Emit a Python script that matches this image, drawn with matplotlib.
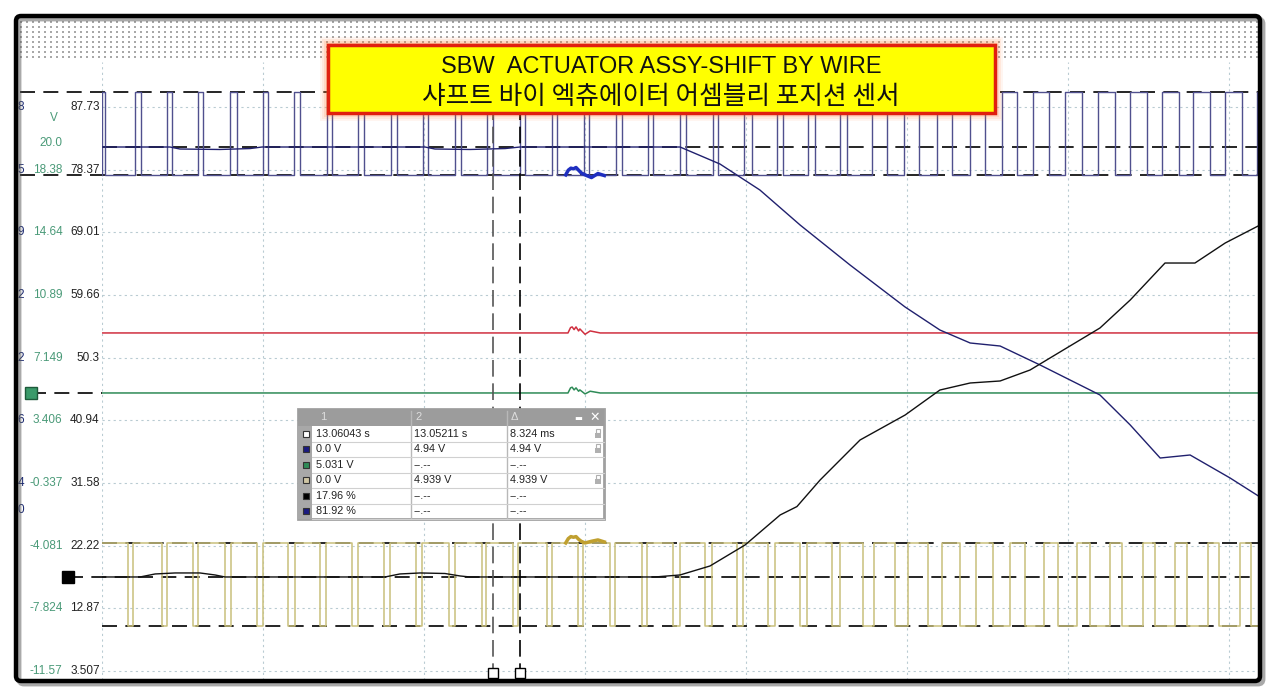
import matplotlib.pyplot as plt
from matplotlib.patches import Rectangle, FancyBboxPatch
from matplotlib.transforms import Affine2D

# ---- scope data: time in ms (50 ms/div), level in the right-hand % scale ----
t_max = 359.6
pct_ticks = [87.73, 78.37, 69.01, 59.66, 50.3, 40.94, 31.58, 22.22, 12.87, 3.507]
volt_ticks = ['', '18.38', '14.64', '10.89', '7.149', '3.406', '-0.337', '-4.081', '-7.824', '-11.57']
cut_ticks = ['8', '5', '9', '2', '2', '6', '4', '', '', '']

# blue channel: short high pulses (rising / falling edges, ms)
blue_high, blue_low = 89.97, 77.58
blue_on = [0.0, 10.2, 20.1, 29.9, 39.8, 49.9, 59.7, 69.8, 79.6, 89.8, 99.8, 109.6,
           119.5, 129.8, 139.7, 149.7, 159.6, 169.4, 179.5, 189.7, 199.5, 209.5,
           219.3, 229.2, 239.0, 248.9, 259.2, 269.6, 279.4, 289.2, 299.1, 309.4,
           319.3, 329.1, 338.9, 348.8, 358.6]
blue_off = [0.9, 12.0, 21.8, 31.4, 41.8, 51.6, 61.5, 71.5, 81.4, 91.5, 101.3, 111.4,
            121.3, 131.4, 141.4, 151.3, 161.4, 171.2, 181.3, 191.4, 201.8, 211.6,
            221.4, 231.3, 243.7, 253.8, 263.8, 274.2, 284.1, 294.2, 304.2, 314.6,
            324.4, 334.3, 344.1, 353.9, 359.6]

# yellow channel: short low pulses (falling / rising edges, ms)
yel_high, yel_low = 22.65, 10.29
yel_fall = [8.1, 18.6, 28.3, 38.2, 48.1, 57.8, 67.7, 77.6, 87.6, 97.5, 107.8, 117.9,
            127.6, 138.1, 147.8, 157.8, 167.6, 177.3, 187.3, 197.1, 206.8, 216.8,
            226.7, 236.3, 246.3, 256.5, 266.5, 276.7, 286.6, 296.9, 306.8, 316.8,
            327.0, 337.0, 346.9, 356.8]
yel_rise = [9.6, 20.2, 29.8, 40.1, 50.0, 59.9, 69.6, 79.5, 89.4, 99.4, 109.6, 119.4,
            129.2, 139.6, 149.4, 159.3, 169.2, 179.5, 189.3, 199.1, 209.0, 218.9,
            229.2, 239.8, 250.3, 260.9, 271.4, 282.0, 292.5, 302.8, 313.0, 323.3,
            333.2, 343.5, 353.4, 359.6]

# duty curves (%)
duty_blue_t = [0, 21.1, 24.2, 36.6, 46.0, 49.7, 100.3, 103.4, 114.3, 125.2, 129.8, 179.5,
               191.9, 204.3, 216.8, 232.3, 249.4, 260.2, 269.6, 278.9, 291.3, 309.9,
               319.3, 328.6, 337.9, 350.3, 359.6]
duty_blue = [81.76, 81.76, 81.46, 81.39, 81.53, 81.76, 81.76, 81.46, 81.39, 81.53, 81.76,
             81.76, 79.22, 75.34, 70.11, 64.14, 57.87, 54.44, 52.50, 52.05, 49.22, 44.74,
             40.26, 35.33, 35.78, 32.35, 29.51]
duty_black_t = [0, 11.8, 16.5, 22.7, 30.4, 35.1, 38.2, 87.9, 92.5, 98.8, 106.5, 111.2,
                114.3, 171.7, 179.5, 188.8, 199.7, 210.6, 215.8, 223.0, 235.4, 249.4,
                260.2, 269.6, 278.9, 288.2, 297.5, 309.9, 319.3, 330.1, 339.4, 348.8, 359.6]
duty_black = [17.57, 17.57, 18.02, 18.17, 18.17, 17.87, 17.57, 17.57, 18.02, 18.17, 18.09,
              17.72, 17.57, 17.57, 17.87, 19.21, 22.35, 26.83, 28.08, 32.05, 38.02, 41.75,
              45.48, 46.53, 46.83, 48.47, 51.16, 54.74, 58.92, 64.44, 64.44, 67.43, 70.11]

# flat channels with the burst around 145-155 ms
red_t = [0, 144.7, 145.5, 146.0, 146.6, 147.2, 148.0, 148.4, 150.0, 151.6, 154.7, 359.6]
red_v = [54.0, 54.0, 54.8, 54.9, 54.5, 54.9, 54.3, 54.6, 53.8, 54.3, 54.0, 54.0]
green_v = [45.04, 45.04, 45.8, 45.9, 45.5, 45.8, 45.3, 45.5, 44.9, 45.3, 45.04, 45.04]
burst_t = [144.0, 144.8, 145.6, 146.4, 147.2, 148.0, 148.8, 150.0, 152.0, 154.0, 156.0]
blue_burst = [77.6, 78.3, 78.6, 78.5, 78.7, 78.3, 77.9, 77.6, 77.2, 77.8, 77.5]
yel_burst = [22.65, 23.3, 23.6, 23.5, 23.6, 23.2, 22.9, 22.65, 22.9, 23.1, 22.8]

cursor_t = [121.4, 129.7]
tbl_c1 = ['13.06043 s', '0.0 V', '5.031 V', '0.0 V', '17.96 %', '81.92 %']
tbl_c2 = ['13.05211 s', '4.94 V', '--.--', '4.939 V', '--.--', '--.--']
tbl_c3 = ['8.324 ms', '4.94 V', '--.--', '4.939 V', '--.--', '--.--']
tbl_icon = ['white', '#1a1a80', '#2e8b57', '#cfc6a4', 'black', '#1a1a80']
tbl_lock = [True, True, False, True, False, False]


def pulse_trace(starts, ends, base, level):
    xs, ys = [0], [base]
    for s, e in zip(starts, ends):
        xs += [s, s, e, e]
        ys += [base, level, level, base]
    xs.append(t_max)
    ys.append(base)
    return xs, ys


W, H = 1280, 698
fig = plt.figure(figsize=(W / 100, H / 100), dpi=100)

# background: dotted header band
bg = fig.add_axes([0, 0, 1, 1], zorder=0)
bg.set_xlim(0, W)
bg.set_ylim(H, 0)
bg.axis('off')
dx = [21 + 6 * i for i in range(207)]
dy = [22 + 5 * j for j in range(8)]
bg.scatter([x for x in dx for _ in dy], [y for _ in dx for y in dy],
           s=0.9, color='#a8a8a8', marker='s', linewidths=0)

# main scope area
ax = fig.add_axes([102 / W, 1 - 680 / H, 1158 / W, 618 / H], zorder=2)
ax.set_facecolor('none')
ax.set_xlim(0, t_max)
ax.set_ylim(2.19, 94.45)
for s in ax.spines.values():
    s.set_visible(False)
ax.set_xticks([])
ax.set_yticks([])

grid_kw = dict(color='#b9cbd2', lw=0.8, ls=(0, (2, 3)), zorder=0)
for t in range(0, 360, 50):
    ax.axvline(t, **grid_kw)
for v in pct_ticks:
    ax.axhline(v, **grid_kw)

# reference dashed lines
dash = dict(color='black', lw=1.2, ls=(0, (9, 5)), clip_on=False, zorder=1)
ax.axhline(blue_high, xmin=-0.071, xmax=1, **dash)
ax.axhline(blue_low, xmin=-0.071, xmax=1, **dash)
ax.axhline(duty_blue[0], xmin=0, xmax=1, **dash)
ax.axhline(yel_high, xmin=0, xmax=1, **dash)
ax.axhline(yel_low, xmin=0, xmax=1, **dash)
ax.axhline(duty_black[0], xmin=-0.029, xmax=1, **dash)
ax.axhline(green_v[0], xmin=-0.061, xmax=0, **dash)

# square waves
bx, by = pulse_trace(blue_on, blue_off, blue_low, blue_high)
ax.plot(bx, by, color='#50508e', lw=1.0, zorder=3)
yx, yy = pulse_trace(yel_fall, yel_rise, yel_high, yel_low)
ax.plot(yx, yy, color='#c9c07c', lw=1.1, zorder=3)
ax.plot(burst_t, blue_burst, color='#1f2fc0', lw=2.5, zorder=4)
ax.plot(burst_t, yel_burst, color='#c0a030', lw=2.5, zorder=4)

# flat channels
ax.plot(red_t, red_v, color='#d03040', lw=1.1, zorder=3)
ax.plot(red_t, green_v, color='#2e8b57', lw=1.1, zorder=3)

# duty cycle curves
ax.plot(duty_blue_t, duty_blue, color='#20206e', lw=1.0, zorder=4)
ax.plot(duty_black_t, duty_black, color='#111111', lw=1.0, zorder=4)

# cursors
ax.axvline(cursor_t[0], ymin=0.0, ymax=0.96, color='#555555', lw=1.2, ls=(0, (10, 4)), zorder=5)
ax.axvline(cursor_t[1], ymin=0.0, ymax=0.96, color='black', lw=1.2, ls=(0, (10, 4)), zorder=5)
ax.plot(cursor_t, [3.2, 3.2], ls='none', marker='s', ms=7, mfc='white', mec='black',
        mew=1, zorder=6, clip_on=False)

# channel markers on the left
ytr = ax.get_yaxis_transform()
ax.plot([-0.061], [green_v[0]], transform=ytr, marker='s', ms=8, mfc='#3a9a6a',
        mec='#1d5a3a', clip_on=False, zorder=6)
ax.plot([-0.029], [duty_black[0]], transform=ytr, marker='s', ms=8, mfc='black',
        mec='black', clip_on=False, zorder=6)

# axis labels (three scale columns)
lab = dict(fontsize=8.5, family='Liberation Sans', va='center', transform=ytr, clip_on=False)
for v, p, c in zip(pct_ticks, volt_ticks, cut_ticks):
    ax.text(-0.002, v, f'{v:g}', ha='right', color='#222222', **lab)
    ax.text(-0.034, v, p, ha='right', color='#4a9a78', **lab)
    ax.text(-0.073, v, c, ha='left', color='#1c2a70', **lab)
ax.text(-0.034, 82.36, '20.0', ha='right', color='#4a9a78', **lab)
ax.text(-0.038, 86.09, 'V', ha='right', color='#4a9a78', **lab)
ax.text(-0.073, 27.57, '0', ha='left', color='#1c2a70', **lab)

# overlay: title box, cursor table, frame
ov = fig.add_axes([0, 0, 1, 1], zorder=5)
ov.set_xlim(0, W)
ov.set_ylim(H, 0)
ov.axis('off')

for pad, a in [(8, 0.07), (6, 0.1), (4, 0.15), (2, 0.25)]:
    ov.add_patch(Rectangle((328 - pad, 45 - pad), 667 + 2 * pad, 68 + 2 * pad,
                           fc='#ff7a30', ec='none', alpha=a))
ov.add_patch(Rectangle((328, 45), 667, 68, fc='#ffff00', ec='#e02010', lw=2.5))
ov.text(661, 67, 'SBW  ACTUATOR ASSY-SHIFT BY WIRE', ha='center', va='center',
        fontsize=17, color='#111111', family=['Liberation Sans', 'Noto Sans CJK KR'])
ov.text(661, 97, '샤프트 바이 엑츄에이터 어셈블리 포지션 센서', ha='center', va='center',
        fontsize=18.5, color='#111111', fontweight='medium',
        family=['Noto Sans CJK KR', 'DejaVu Sans'])

# cursor table
x0, x1, hy0, hy1 = 298, 604, 409, 426
rh = 15.5
ov.add_patch(Rectangle((x0, hy0), x1 - x0, hy1 - hy0 + 6 * rh, fc='white', ec='#a0a0a0', lw=2))
ov.add_patch(Rectangle((x0, hy0), x1 - x0, hy1 - hy0, fc='#9c9c9c', ec='none'))
ov.add_patch(Rectangle((x0, hy1), 14, 6 * rh, fc='#a8a8a8', ec='none'))
for cx in (411, 507):
    ov.plot([cx, cx], [hy0 + 2, hy1 + 6 * rh], color='#b8b8b8', lw=1)
for h, hx in zip(['1', '2', 'Δ'], [320, 415, 511]):
    ov.text(hx, (hy0 + hy1) / 2, h, ha='left', va='center', fontsize=8, color='#dedede',
            family='Liberation Sans')
ov.text(578, (hy0 + hy1) / 2 + 1, '▬', ha='center', va='center', fontsize=6, color='white')
ov.text(595, (hy0 + hy1) / 2, '✕', ha='center', va='center', fontsize=9, color='white',
        fontweight='bold', family='DejaVu Sans')
for i in range(6):
    cy = hy1 + rh * (i + 0.5)
    ov.plot([312, x1], [hy1 + rh * (i + 1)] * 2, color='#d0d0d0', lw=0.8)
    ov.add_patch(Rectangle((303, cy - 3), 6, 6, fc=tbl_icon[i], ec='#333333', lw=0.8))
    for txt, tx in zip([tbl_c1[i], tbl_c2[i], tbl_c3[i]], [316, 414, 510]):
        ov.text(tx, cy, txt, ha='left', va='center', fontsize=7.8, color='#222222',
                family='Liberation Sans')
    if tbl_lock[i]:
        ov.add_patch(Rectangle((595, cy - 1), 6, 5, fc='#b0b0b0', ec='none'))
        ov.add_patch(Rectangle((596, cy - 5), 4, 4, fc='none', ec='#b0b0b0', lw=0.8))

# hand-drawn looking frame with a soft shadow
ov.add_patch(FancyBboxPatch((17, 17), 1244, 665, boxstyle='round,pad=0,rounding_size=5',
                            fc='none', ec='#555555', lw=3.5, alpha=0.5,
                            transform=ov.transData + Affine2D().translate(2, -2)))
ov.add_patch(FancyBboxPatch((16, 16), 1244, 665, boxstyle='round,pad=0,rounding_size=5',
                            fc='none', ec='black', lw=3.2))

fig.savefig('out.png', dpi=100)
